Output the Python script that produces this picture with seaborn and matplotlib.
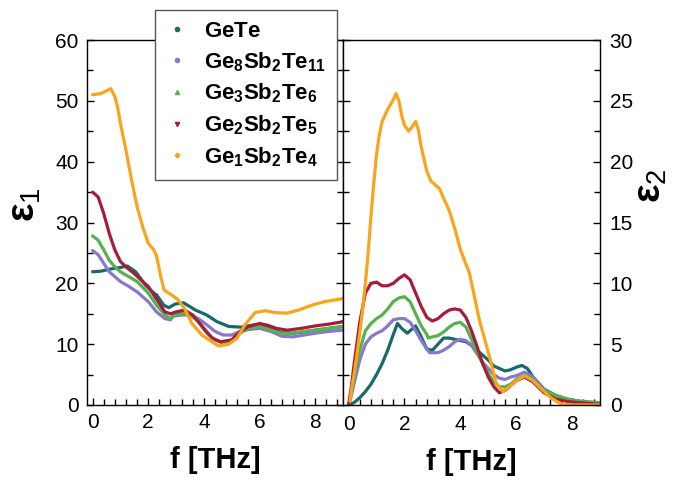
import matplotlib
matplotlib.use("Agg")
import matplotlib.pyplot as plt
from matplotlib.ticker import MultipleLocator
from matplotlib.lines import Line2D
import pandas as pd
import seaborn as sns

sns.set_theme(style="white")
plt.rcParams['font.family'] = ['Liberation Sans', 'DejaVu Sans']
plt.rcParams['mathtext.fontset'] = 'custom'
plt.rcParams['mathtext.rm'] = 'Liberation Sans'
plt.rcParams['mathtext.bf'] = 'Liberation Sans:bold'
plt.rcParams['text.color'] = 'black'
plt.rcParams['axes.labelcolor'] = 'black'

names = ["GeTe", "Ge8Sb2Te11", "Ge3Sb2Te6", "Ge2Sb2Te5", "Ge1Sb2Te4"]
labels = [r"$\mathbf{GeTe}$", r"$\mathbf{Ge_8Sb_2Te_{11}}$", r"$\mathbf{Ge_3Sb_2Te_6}$",
          r"$\mathbf{Ge_2Sb_2Te_5}$", r"$\mathbf{Ge_1Sb_2Te_4}$"]
colors = ["#17696b", "#8878cc", "#55b24c", "#a51d3b", "#f9a51b"]
markers = ["o", "o", "^", "v", "P"]

# ---- eps1 (left panel) ----
gete_f1 = [0, 0.3, 0.7, 1.0, 1.25, 1.55, 1.9, 2.2, 2.3, 2.56, 2.74, 2.97, 3.27, 3.7, 4.1, 4.47,
           4.9, 5.36, 5.85, 6.2, 6.5, 6.8, 7.2, 7.6, 8.0, 8.5, 9.0]
gete_e1 = [21.9, 22.0, 22.4, 22.6, 22.85, 21.9, 19.7, 18.4, 18.1, 16.4, 16.0, 16.6, 16.8, 15.6, 14.8, 13.7,
           12.9, 12.8, 13.2, 13.0, 12.4, 11.9, 11.8, 12.0, 12.3, 12.6, 12.9]

ge8_f1 = [0, 0.2, 0.4, 0.6, 0.8, 1.0, 1.3, 1.6, 2.0, 2.3, 2.6, 2.8, 2.9, 3.2, 3.5, 3.8, 4.1, 4.4,
          4.7, 5.0, 5.3, 5.6, 6.0, 6.4, 6.8, 7.2, 7.6, 8.0, 8.5, 9.0]
ge8_e1 = [25.4, 24.7, 23.3, 21.9, 21.1, 20.3, 19.5, 18.6, 17.0, 15.3, 14.2, 14.0, 14.6, 14.8, 14.8, 14.2, 13.2, 12.1,
          11.5, 11.5, 12.1, 12.4, 12.6, 12.1, 11.3, 11.2, 11.5, 11.8, 12.1, 12.3]

ge3_f1 = [0, 0.2, 0.4, 0.6, 0.8, 1.0, 1.3, 1.6, 2.0, 2.3, 2.6, 2.8, 2.9, 3.2, 3.5, 3.8, 4.1, 4.4,
          4.7, 5.0, 5.3, 5.6, 6.0, 6.4, 6.8, 7.2, 7.6, 8.0, 8.5, 9.0]
ge3_e1 = [27.8, 27.1, 25.5, 23.8, 22.7, 21.9, 21.1, 20.3, 18.4, 16.4, 14.8, 14.2, 14.8, 15.1, 14.8, 13.7, 11.8, 10.7,
          10.1, 10.6, 11.8, 12.6, 12.9, 12.3, 11.8, 11.8, 12.1, 12.3, 12.6, 12.9]

ge2_f1 = [0, 0.2, 0.4, 0.6, 0.8, 1.0, 1.2, 1.5, 1.8, 2.0, 2.2, 2.4, 2.6, 2.8, 3.0, 3.3, 3.6, 4.0,
          4.3, 4.6, 5.0, 5.3, 5.6, 6.0, 6.3, 6.6, 7.0, 7.5, 8.0, 8.5, 9.0]
ge2_e1 = [35.0, 34.2, 31.5, 28.2, 25.5, 23.6, 22.7, 21.6, 20.3, 19.5, 18.1, 16.7, 15.3, 15.0, 15.3, 15.6, 14.8, 12.6,
          11.0, 10.4, 10.7, 12.1, 12.9, 13.4, 13.1, 12.6, 12.3, 12.6, 13.0, 13.3, 13.7]

ge1_f1 = [0, 0.3, 0.65, 0.8, 0.9, 1.0, 1.2, 1.4, 1.6, 1.8, 2.0, 2.2, 2.3, 2.45, 2.57, 2.8, 3.05, 3.3,
          3.57, 3.93, 4.29, 4.53, 4.89, 5.19, 5.48, 5.84, 6.2, 6.56, 6.98, 7.4, 7.87, 8.35, 9.0]
ge1_e1 = [51.0, 51.2, 52.0, 50.7, 49.0, 46.3, 41.9, 37.0, 32.6, 29.3, 26.6, 25.5, 24.5, 21.1, 18.9, 18.2, 17.4, 15.9,
          13.4, 11.5, 10.4, 9.7, 10.0, 11.0, 13.2, 15.2, 15.5, 15.2, 15.1, 15.6, 16.4, 17.0, 17.5]

# ---- eps2 (right panel) ----
gete_f2 = [0, 0.2, 0.4, 0.6, 0.8, 1.0, 1.2, 1.4, 1.6, 1.75, 1.9, 2.1, 2.3, 2.4, 2.6, 2.8, 3.0, 3.2, 3.4,
           3.6, 3.8, 4.0, 4.2, 4.4, 4.6, 4.8, 5.0, 5.2, 5.4, 5.6, 5.8, 6.0, 6.2, 6.4, 6.6, 7.0, 7.4, 7.8, 8.2, 9.0]
gete_e2 = [0.0, 0.2, 0.6, 1.1, 1.7, 2.5, 3.4, 4.5, 5.8, 6.7, 6.3, 5.9, 6.3, 6.5, 5.6, 4.6, 4.5, 5.0, 5.5,
           5.5, 5.4, 5.3, 5.2, 4.9, 4.5, 4.1, 3.7, 3.2, 3.0, 2.8, 2.9, 3.1, 3.25, 3.0, 2.3, 1.3, 0.8, 0.5, 0.3, 0.15]

ge8_f2 = [0, 0.1, 0.2, 0.4, 0.6, 0.8, 1.0, 1.2, 1.4, 1.6, 1.8, 2.0, 2.2, 2.4, 2.6, 2.8, 2.9, 3.0, 3.2,
          3.4, 3.6, 3.8, 4.0, 4.2, 4.4, 4.6, 4.8, 5.0, 5.2, 5.4, 5.6, 5.8, 6.0, 6.3, 6.6, 7.0, 7.4, 7.8, 8.2, 9.0]
ge8_e2 = [0.0, 0.8, 1.8, 3.7, 5.0, 5.6, 5.9, 6.1, 6.5, 7.0, 7.1, 7.1, 6.8, 6.1, 5.3, 4.6, 4.3, 4.3, 4.3,
          4.5, 4.8, 5.2, 5.4, 5.3, 4.9, 4.2, 3.5, 3.0, 2.5, 2.2, 2.1, 2.3, 2.4, 2.7, 2.3, 1.3, 0.8, 0.5, 0.3, 0.15]

ge3_f2 = [0, 0.1, 0.2, 0.4, 0.6, 0.8, 1.0, 1.2, 1.4, 1.6, 1.8, 2.0, 2.2, 2.4, 2.6, 2.8, 2.85, 3.0, 3.2,
          3.4, 3.6, 3.8, 4.0, 4.2, 4.4, 4.6, 4.8, 5.0, 5.2, 5.4, 5.6, 5.8, 6.0, 6.3, 6.6, 7.0, 7.4, 7.8, 8.2,
          8.6, 9.0]
ge3_e2 = [0.0, 1.0, 2.3, 4.5, 6.1, 6.7, 7.1, 7.4, 7.9, 8.5, 8.8, 8.9, 8.5, 7.5, 6.5, 5.8, 5.5, 5.6, 5.7,
          6.0, 6.4, 6.7, 6.8, 6.4, 5.4, 4.3, 3.4, 2.6, 1.9, 1.5, 1.5, 1.7, 2.1, 2.4, 2.1, 1.2, 0.8, 0.5, 0.35,
          0.25, 0.2]

ge2_f2 = [0, 0.1, 0.2, 0.4, 0.6, 0.8, 1.0, 1.2, 1.4, 1.6, 1.8, 2.0, 2.2, 2.4, 2.6, 2.8, 3.0, 3.2, 3.4,
          3.6, 3.8, 4.0, 4.2, 4.4, 4.6, 4.8, 5.0, 5.2, 5.4, 5.6, 5.8, 6.0, 6.3, 6.6, 7.0, 7.4, 7.8, 8.2, 9.0]
ge2_e2 = [0.0, 1.5, 3.4, 6.8, 9.2, 10.0, 10.1, 9.8, 9.8, 10.0, 10.4, 10.7, 10.3, 9.2, 8.1, 7.2, 6.9, 7.1, 7.5,
          7.8, 7.9, 7.8, 7.2, 6.1, 4.8, 3.4, 2.3, 1.5, 1.0, 1.2, 1.6, 2.0, 2.3, 1.9, 1.0, 0.5, 0.3, 0.2, 0.05]

ge1_f2 = [0.05, 0.1, 0.2, 0.3, 0.4, 0.5, 0.6, 0.7, 0.8, 0.9, 1.0, 1.1, 1.2, 1.4, 1.6, 1.7, 1.8, 1.9, 2.0,
          2.15, 2.25, 2.4, 2.5, 2.6, 2.8, 2.95, 3.25, 3.4, 3.6, 3.8, 4.0, 4.33, 4.68, 5.04, 5.28, 5.52,
          5.8, 6.0, 6.3, 6.6, 7.0, 7.3, 7.6, 8.0, 9.0]
ge1_e2 = [0.3, 1.2, 2.6, 4.2, 5.9, 7.8, 10.0, 12.5, 15.5, 18.2, 20.6, 22.2, 23.3, 24.3, 25.1, 25.6, 25.0, 23.8, 23.0,
          22.5, 22.8, 23.3, 22.6, 21.2, 19.2, 18.4, 17.8, 17.0, 16.0, 14.5, 12.8, 10.8, 7.0, 4.0, 1.8, 1.1,
          1.6, 2.0, 2.4, 2.0, 1.1, 0.5, 0.1, 0.0, 0.0]

series1 = [(gete_f1, gete_e1), (ge8_f1, ge8_e1), (ge3_f1, ge3_e1), (ge2_f1, ge2_e1), (ge1_f1, ge1_e1)]
series2 = [(gete_f2, gete_e2), (ge8_f2, ge8_e2), (ge3_f2, ge3_e2), (ge2_f2, ge2_e2), (ge1_f2, ge1_e2)]


def long_form(series):
    frames = []
    for name, (f, e) in zip(names, series):
        frames.append(pd.DataFrame({"f": f, "eps": e, "material": name}))
    return pd.concat(frames, ignore_index=True)


df1 = long_form(series1)
df2 = long_form(series2)
palette = dict(zip(names, colors))

fig = plt.figure(figsize=(6.97, 4.8), dpi=100)
ax1 = fig.add_axes([87 / 697, 75 / 480, 256 / 697, 365 / 480])
ax2 = fig.add_axes([343 / 697, 75 / 480, 257 / 697, 365 / 480])

for ax, df in [(ax1, df1), (ax2, df2)]:
    sns.lineplot(data=df, x="f", y="eps", hue="material", hue_order=names, palette=palette,
                 sort=False, estimator=None, linewidth=2.3, legend=False, ax=ax)
    ax.set_xlim(-0.2, 9.0)
    ax.xaxis.set_major_locator(MultipleLocator(2))
    ax.xaxis.set_minor_locator(MultipleLocator(0.4))
    ax.tick_params(which="both", direction="in", left=True, right=True, bottom=True, top=False,
                   width=1, colors="black", labelsize=15, pad=6)
    ax.tick_params(which="major", length=5)
    ax.tick_params(which="minor", length=4)
    for s in ax.spines.values():
        s.set_color("black")
        s.set_linewidth(1)
    ax.set_xlabel("f [THz]", fontsize=21, fontweight="bold", labelpad=10)

ax1.set_ylim(0, 60)
ax1.yaxis.set_major_locator(MultipleLocator(10))
ax1.yaxis.set_minor_locator(MultipleLocator(5))
ax1.set_ylabel("ε$_1$", fontsize=28, fontweight="bold")
ax1.yaxis.set_label_coords(-0.17, 0.55)

ax2.set_ylim(0, 30)
ax2.yaxis.set_major_locator(MultipleLocator(5))
ax2.yaxis.set_minor_locator(MultipleLocator(2.5))
ax2.yaxis.tick_right()
ax2.tick_params(which="both", left=True, right=True, labelleft=False, labelright=True, pad=7)
ax2.yaxis.set_label_position("right")
ax2.set_ylabel("ε$_2$", fontsize=28, fontweight="bold", rotation=90)
ax2.yaxis.set_label_coords(1.13, 0.6)

handles = [Line2D([], [], linestyle="none", marker=m, color=c, markersize=3)
           for m, c in zip(markers, colors)]
leg = fig.legend(handles, labels, loc="upper left", bbox_to_anchor=(155 / 697, 1 - 10 / 480),
                 bbox_transform=fig.transFigure, borderaxespad=0, frameon=True, fancybox=False,
                 framealpha=1, edgecolor="#555555", fontsize=16, handlelength=1.0,
                 handletextpad=0.7, labelspacing=0.36, borderpad=0.5)
leg.get_frame().set_linewidth(1)

fig.savefig("out.png", dpi=100)
